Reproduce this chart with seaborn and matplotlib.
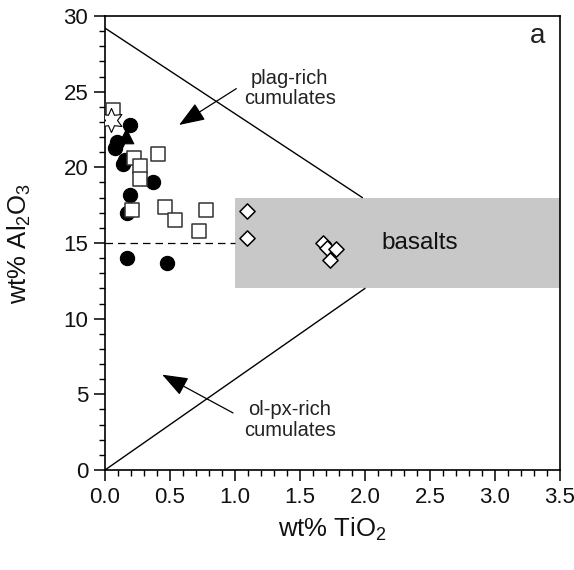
import numpy as np
import pandas as pd
import matplotlib
matplotlib.use("Agg")
import matplotlib.pyplot as plt
import seaborn as sns
from matplotlib.ticker import MultipleLocator

# ---- data ----
circle_x = [0.19, 0.09, 0.08, 0.15, 0.14, 0.37, 0.19, 0.17, 0.17, 0.48]
circle_y = [22.8, 21.7, 21.3, 20.5, 20.2, 19.0, 18.2, 17.0, 14.0, 13.7]
triangle_x = [0.16]
triangle_y = [22.1]
square_x = [0.065, 0.22, 0.27, 0.27, 0.41, 0.21, 0.46, 0.54, 0.78, 0.72]
square_y = [23.8, 20.6, 20.1, 19.2, 20.9, 17.2, 17.4, 16.5, 17.2, 15.8]
star_x = [0.045]
star_y = [23.1]
diamond_x = [1.09, 1.09, 1.68, 1.71, 1.78, 1.73]
diamond_y = [17.1, 15.3, 15.0, 14.7, 14.6, 13.9]

upper_line_x = [0.0, 1.98]
upper_line_y = [29.2, 18.0]
lower_line_x = [0.0, 2.0]
lower_line_y = [0.0, 12.0]
dash_x = [0.0, 1.0]
dash_y = [15.0, 15.0]
basalt_box = (1.0, 3.5, 12.0, 18.0)

x_ticks = [0.0, 0.5, 1.0, 1.5, 2.0, 2.5, 3.0, 3.5]
y_ticks = [0, 5, 10, 15, 20, 25, 30]

# ---- style ----
sns.set_style("ticks")
plt.rcParams["font.family"] = ["Liberation Sans", "DejaVu Sans"]
plt.rcParams["mathtext.fontset"] = "custom"
plt.rcParams["mathtext.rm"] = "Liberation Sans"
plt.rcParams["mathtext.it"] = "Liberation Sans"

fig = plt.figure(figsize=(5.74, 5.70), dpi=100)
ax = fig.add_axes([105/574, 1-470/570, 455/574, 454/570])

x0, x1, y0, y1 = basalt_box
ax.fill_between([x0, x1], [y0, y0], [y1, y1], color="#c8c8c8", lw=0, zorder=1)

sns.lineplot(x=upper_line_x, y=upper_line_y, ax=ax, color="black", lw=1.0, zorder=2)
sns.lineplot(x=lower_line_x, y=lower_line_y, ax=ax, color="black", lw=1.0, zorder=2)
ax.plot(dash_x, dash_y, color="black", lw=0.9, ls=(0, (6, 4)), zorder=2)

df_c = pd.DataFrame({"x": circle_x, "y": circle_y})
df_t = pd.DataFrame({"x": triangle_x, "y": triangle_y})
df_s = pd.DataFrame({"x": square_x, "y": square_y})
df_st = pd.DataFrame({"x": star_x, "y": star_y})
df_d = pd.DataFrame({"x": diamond_x, "y": diamond_y})

sns.scatterplot(data=df_c, x="x", y="y", ax=ax, marker="o", s=105,
                color="black", edgecolor="black", linewidth=0.8, zorder=3)
sns.scatterplot(data=df_t, x="x", y="y", ax=ax, marker="^", s=110,
                color="black", edgecolor="black", linewidth=0.8, zorder=3)
sns.scatterplot(data=df_s, x="x", y="y", ax=ax, marker="s", s=100,
                color="white", edgecolor="#333333", linewidth=1.1, zorder=4)
sns.scatterplot(data=df_st, x="x", y="y", ax=ax, marker=(6, 1, 0), s=300,
                color="white", edgecolor="black", linewidth=0.8, zorder=5)
sns.scatterplot(data=df_d, x="x", y="y", ax=ax, marker="D", s=60,
                color="white", edgecolor="black", linewidth=1.1, zorder=4)

# arrows
ap = dict(arrowstyle="-|>,head_length=0.8,head_width=0.3", color="black",
          lw=0.9, mutation_scale=20, shrinkA=0, shrinkB=0)
ax.annotate("", xy=(0.57, 22.8), xytext=(1.01, 25.2), arrowprops=ap, zorder=6)
ax.annotate("", xy=(0.44, 6.3), xytext=(0.985, 3.77), arrowprops=ap, zorder=6)

ax.text(1.42, 25.2, "plag-rich\ncumulates", ha="center", va="center",
        fontsize=14.5, linespacing=1.1, color="#222222")
ax.text(1.42, 3.3, "ol-px-rich\ncumulates", ha="center", va="center",
        fontsize=14.5, linespacing=1.1, color="#222222")
ax.text(2.42, 15.0, "basalts", ha="center", va="center", fontsize=17.5, color="#111111")
ax.text(3.33, 28.7, "a", ha="center", va="center", fontsize=20, color="#222222")

ax.set_xlim(0, 3.5)
ax.set_ylim(0, 30)
ax.set_xticks(x_ticks)
ax.set_xticklabels([f"{v:.1f}" for v in x_ticks])
ax.set_yticks(y_ticks)
ax.set_yticklabels([str(v) for v in y_ticks])
ax.xaxis.set_minor_locator(MultipleLocator(0.1))
ax.yaxis.set_minor_locator(MultipleLocator(1))
ax.tick_params(which="major", direction="out", length=8, width=1.1, labelsize=16,
               pad=4, colors="black", labelcolor="#111111")
ax.tick_params(which="minor", direction="out", length=4.5, width=1.0, colors="black")
for sp in ax.spines.values():
    sp.set_linewidth(1.2)
    sp.set_color("black")
    sp.set_visible(True)

ax.set_xlabel(r"wt% TiO$_2$", fontsize=18.5, labelpad=6, color="#111111")
ax.set_ylabel(r"wt% Al$_2$O$_3$", fontsize=18.5, labelpad=22, color="#111111")

fig.savefig("out.png", dpi=100)
